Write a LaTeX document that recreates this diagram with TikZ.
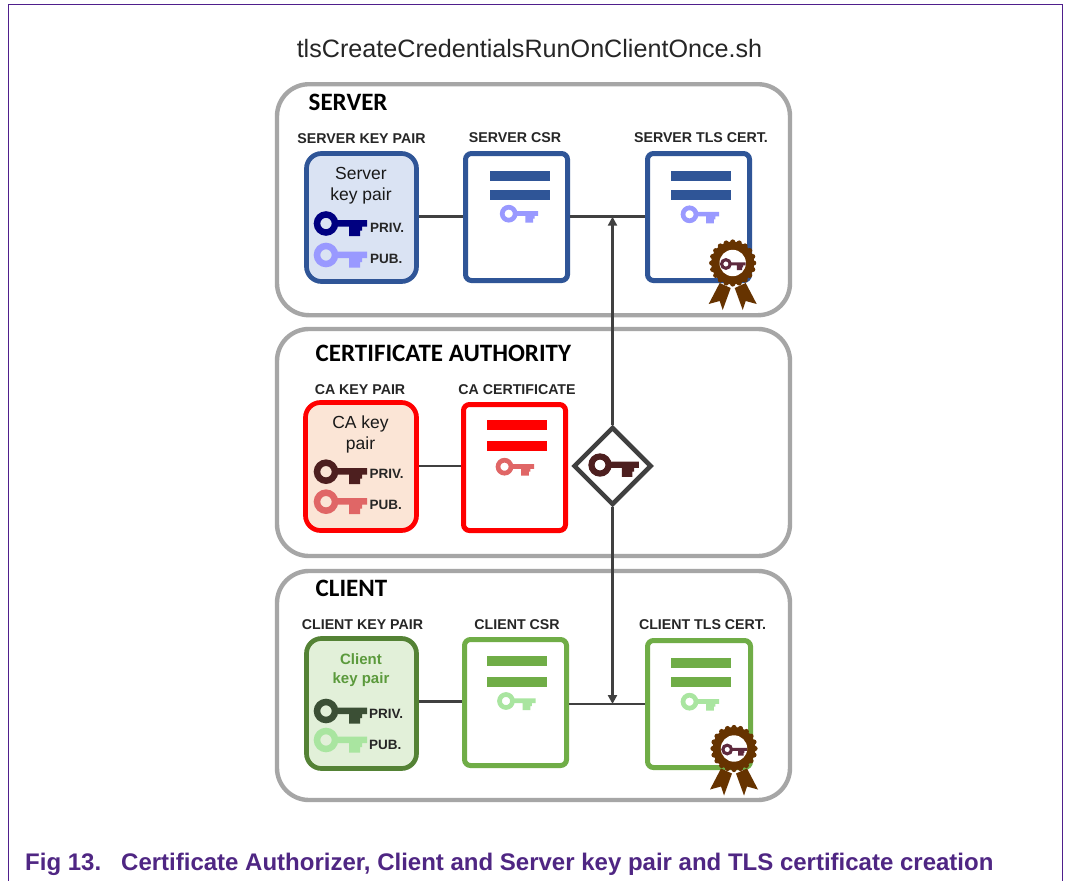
\documentclass[tikz,border=0pt]{standalone}
\usepackage{fontspec}
\setmainfont{Liberation Sans}
\newfontfamily\cali{Carlito}[Scale=1.0]
\usetikzlibrary{arrows.meta,shapes.geometric,shapes.misc}
\definecolor{framepurple}{HTML}{4F1F8C}
\definecolor{captionpurple}{HTML}{4F2683}
\definecolor{groupgrey}{HTML}{A6A6A6}
\definecolor{wiregrey}{HTML}{404040}
\definecolor{sblue}{HTML}{2F5597}
\definecolor{sfill}{HTML}{DAE3F3}
\definecolor{sdark}{HTML}{000080}
\definecolor{slite}{HTML}{9999FF}
\definecolor{cared}{HTML}{FF0000}
\definecolor{cafill}{HTML}{FBE5D6}
\definecolor{cadark}{HTML}{4D1F1F}
\definecolor{calite}{HTML}{E06666}
\definecolor{cgreen}{HTML}{70AD47}
\definecolor{cgreendk}{HTML}{548235}
\definecolor{cfill}{HTML}{E2F0D9}
\definecolor{cdark}{HTML}{3B4F35}
\definecolor{clite}{HTML}{A9E5A0}
\definecolor{cltext}{HTML}{5B9A3C}
\definecolor{ribbon}{HTML}{663300}
\definecolor{sealkey}{HTML}{5E2A3E}
\tikzset{
  x=1pt,y=-1pt,
  group/.style={draw=groupgrey,line width=4.4pt,rounded corners=32pt,fill=white,inner sep=0pt},
  keybox/.style={line width=4.7pt,rounded corners=15pt,inner sep=0pt},
  doc/.style={draw,fill=white,line width=5pt,rounded corners=6pt,inner sep=0pt},
  grouptitle/.style={font=\cali\bfseries\fontsize{25}{28}\selectfont,anchor=west,text=black,inner sep=0pt},
  smalllabel/.style={font=\bfseries\fontsize{14.2}{16}\selectfont,text=black!85,inner sep=0pt},
  keylabel/.style={font=\fontsize{17.5}{21}\selectfont,align=center,inner sep=0pt,text=black!90},
  keytag/.style={font=\bfseries\fontsize{13.5}{15}\selectfont,anchor=west,text=black!85,inner sep=0pt},
  wire/.style={draw=wiregrey,line width=2.8pt},
  arrowwire/.style={wire,-{Triangle[length=9pt,width=9pt]}},
}
% \keyglyph{x}{y}{scale}{colour}: key with ring centre at x,y
\newcommand{\keyglyph}[4]{%
  \begin{scope}[shift={(#1,#2)},x=#3pt,y=-#3pt]
    \draw[#4,line width=#3*6.5pt] (0,0) circle[radius=9];
    \fill[#4] (10,-3.5) -- (41,-3.5) -- (41,3) -- (36,3) -- (36,7) -- (34,7) -- (34,12.5) -- (23,12.5) -- (23,3) -- (10,3) -- cycle;
  \end{scope}}
% \docbars{left}{y1}{y2}{colour}
\newcommand{\docbars}[4]{%
  \fill[#4] (#1,#2) rectangle ++(60,10);
  \fill[#4] (#1,#3) rectangle ++(60,10);}
% \seal{x}{y} centre of the rosette
\newcommand{\seal}[2]{%
  \begin{scope}[shift={(#1,#2)}]
    \fill[ribbon] (-13,20) -- (-24,41) -- (-13,38) -- (-10,47) -- (-2,25) -- cycle;
    \fill[ribbon] (13,20) -- (24,41) -- (13,38) -- (10,47) -- (2,25) -- cycle;
    \foreach \a in {0,18,...,342}{\fill[ribbon] (\a:21) circle[radius=2.6];}
    \fill[ribbon] (0,0) circle[radius=21.5];
    \fill[white] (0,0) circle[radius=13.2];
  \end{scope}
  \keyglyph{#1-6.8}{#2+1}{0.48}{sealkey}}
\begin{document}
\begin{tikzpicture}
\useasboundingbox (0,0) rectangle (1066,881);
\fill[white] (0,0) rectangle (1066,881);
% frame
\coordinate (fbl) at (8.5,881);
\coordinate (ftl) at (8.5,4.5);
\coordinate (ftr) at (1062.5,4.5);
\coordinate (fbr) at (1062.5,881);
\draw[framepurple,line width=1.4pt] (fbl) -- (ftl) -- (ftr) -- (fbr);
\node[font=\fontsize{25.15}{28}\selectfont,text=black!85,inner sep=0pt] (title) at (529.5,49) {tlsCreateCredentialsRunOnClientOnce.sh};
% groups
\node[group,minimum width=513pt,minimum height=231pt] (gs) at (533.5,199.7) {};
\node[group,minimum width=513pt,minimum height=227pt] (gc) at (533.5,442.5) {};
\node[group,minimum width=513pt,minimum height=229pt] (gk) at (533.5,685.5) {};
\node[grouptitle] (ts) at (308.5,102) {SERVER};
\node[grouptitle] (tc) at (315.5,353) {CERTIFICATE AUTHORITY};
\node[grouptitle] (tk) at (315.5,588) {CLIENT};
% server
\node[smalllabel] (l1) at (361.5,139) {SERVER KEY PAIR};
\node[smalllabel] (l2) at (515,137.5) {SERVER CSR};
\node[smalllabel] (l3) at (701,137.5) {SERVER TLS CERT.};
\node[keybox,draw=sblue,fill=sfill,minimum width=110pt,minimum height=128pt] (s1) at (361.5,217.5) {};
\node[doc,draw=sblue,minimum width=102pt,minimum height=127pt] (s2) at (516.5,217) {};
\node[doc,draw=sblue,minimum width=102pt,minimum height=127pt] (s3) at (698.5,217) {};
\node[keylabel] (s1t) at (361,186) {Server\\key pair};
\keyglyph{326}{223.5}{1}{sdark}
\keyglyph{326}{255}{1}{slite}
\node[keytag] (s1a) at (370,228) {PRIV.};
\node[keytag] (s1b) at (370,259) {PUB.};
\docbars{490}{171}{190}{sblue}
\docbars{671}{171}{190}{sblue}
\keyglyph{508.7}{213.7}{0.72}{slite}
\keyglyph{689.5}{214.3}{0.72}{slite}
% ca
\node[smalllabel] (l4) at (360,389.5) {CA KEY PAIR};
\node[smalllabel] (l5) at (517,389.5) {CA CERTIFICATE};
\node[keybox,draw=cared,fill=cafill,minimum width=111pt,minimum height=128pt] (c1) at (361,466.5) {};
\node[doc,draw=cared,minimum width=102pt,minimum height=126pt] (c2) at (514.5,467.5) {};
\node[keylabel] (c1t) at (360.5,434.5) {CA key\\pair};
\keyglyph{326}{471.7}{1}{cadark}
\keyglyph{326}{501.7}{1}{calite}
\node[keytag] (c1a) at (369.5,474) {PRIV.};
\node[keytag] (c1b) at (369.5,505) {PUB.};
\docbars{487}{420}{441}{cared}
\keyglyph{504.5}{466.7}{0.72}{calite}
\node[diamond,draw=wiregrey,fill=white,line width=4.5pt,minimum width=78pt,minimum height=78pt,inner sep=0pt] (dia) at (612.5,466) {};
\keyglyph{600}{465}{0.95}{cadark}
% client
\node[smalllabel] (l6) at (362.5,624.5) {CLIENT KEY PAIR};
\node[smalllabel] (l7) at (517,624.5) {CLIENT CSR};
\node[smalllabel] (l8) at (702.5,624.5) {CLIENT TLS CERT.};
\node[keybox,draw=cgreendk,fill=cfill,minimum width=110pt,minimum height=130pt] (k1) at (361.5,703.5) {};
\node[doc,draw=cgreen,minimum width=102pt,minimum height=126pt] (k2) at (515.5,702.5) {};
\node[doc,draw=cgreen,minimum width=103pt,minimum height=127pt] (k3) at (699,704) {};
\node[keylabel,font=\bfseries\fontsize{15}{19.5}\selectfont,text=cltext] (k1t) at (361,670) {Client\\key pair};
\keyglyph{326}{711}{1}{cdark}
\keyglyph{326}{740}{1}{clite}
\node[keytag] (k1a) at (369,714) {PRIV.};
\node[keytag] (k1b) at (369,745) {PUB.};
\docbars{487}{656}{677}{cgreen}
\docbars{671}{658}{677}{cgreen}
\keyglyph{506}{701}{0.72}{clite}
\keyglyph{689.5}{701.7}{0.72}{clite}
% connectors
\draw[wire] (s1.east |- 0,216.7) -- (s2.west |- 0,216.7);
\draw[wire] (s2.east |- 0,216.7) -- (s3.west |- 0,216.7) coordinate (s3i);
\coordinate (sjoin) at (dia.north |- s3i);
\draw[arrowwire] (dia.north) -- (sjoin);
\draw[wire] (c1.east |- 0,466) -- (c2.west |- 0,466);
\draw[wire] (k1.east |- 0,701.7) -- (k2.west |- 0,701.7);
\draw[wire] (k2.east |- 0,704) -- (k3.west |- 0,704);
\coordinate (kjoin) at (dia.south |- 0,704);
\draw[arrowwire] (dia.south) -- (kjoin);
% seals
\seal{732.7}{263}
\seal{734}{748.5}
% caption
\node[font=\bfseries\fontsize{24}{28}\selectfont,text=captionpurple,anchor=west,inner sep=0pt] (cap) at (25,864) {Fig 13.\hspace{20pt}Certificate Authorizer, Client and Server key pair and TLS certificate creation};
\end{tikzpicture}
\end{document}
